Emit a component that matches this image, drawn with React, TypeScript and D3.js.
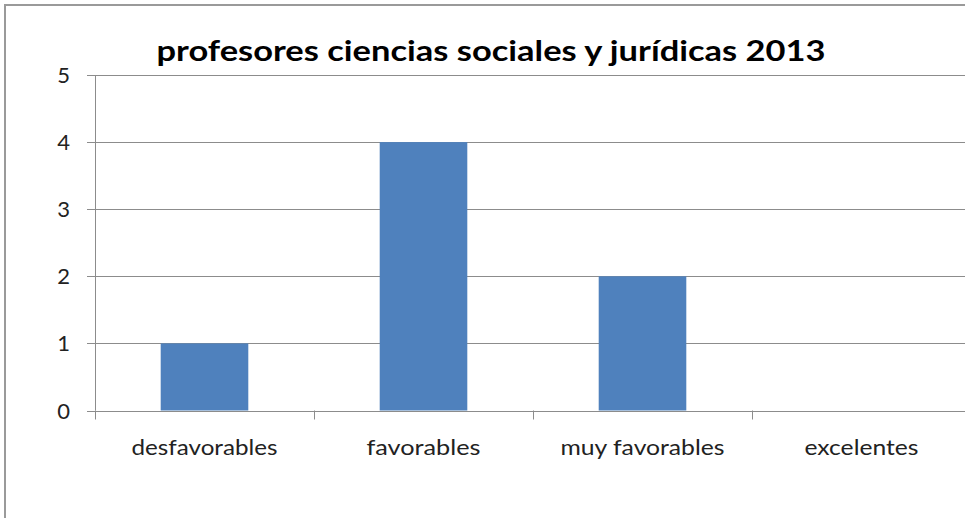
import React from "react";
import * as d3 from "d3";

const categories = ["desfavorables", "favorables", "muy favorables", "excelentes"];
const values = [1, 4, 2, 0];
const yTicks = [0, 1, 2, 3, 4, 5];
const title = "profesores ciencias sociales y jurídicas 2013";

export default function App() {
  const W = 965, H = 518;
  const left = 95, right = 971, top = 75, bottom = 410.5;
  const x = d3.scaleBand<string>().domain(categories).range([left, right]).paddingInner(0).paddingOuter(0);
  const y = d3.scaleLinear().domain([0, 5]).range([bottom, top]);
  const bw = x.bandwidth();
  const barW = bw * 0.4;
  const font = "Lato, 'Open Sans', sans-serif";
  const grid = "#8c8c8c";
  const labelW: Record<string, number> = { "desfavorables": 146, "favorables": 114, "muy favorables": 164, "excelentes": 114 };
  return (
    <svg width={W} height={H} style={{ position: "absolute", left: 0, top: 0, background: "#fff" }}>
      <rect x={5} y={5} width={W + 10} height={H + 10} fill="#fff" stroke="#9a9a9a" strokeWidth={2} />
      <text x={491} y={61} textAnchor="middle" fontFamily={font} fontWeight={700} fontSize={29} fill="#000"
        textLength={669} lengthAdjust="spacingAndGlyphs">{title}</text>
      {yTicks.map(t => (
        <g key={t}>
          <line x1={87} x2={right} y1={Math.round(y(t)) + 0.5} y2={Math.round(y(t)) + 0.5} stroke={grid} strokeWidth={1} />
          <text x={70} y={y(t) + 8} textAnchor="end" fontFamily={font} fontSize={22} fill="#222">{t}</text>
        </g>
      ))}
      <line x1={95.5} x2={95.5} y1={top} y2={bottom} stroke={grid} />
      {categories.map((c, i) => (
        <g key={c}>
          <line x1={Math.round(x(c)!) + 0.5} x2={Math.round(x(c)!) + 0.5} y1={bottom} y2={bottom + 9} stroke={grid} />
          {values[i] > 0 && (
            <rect x={x(c)! + (bw - barW) / 2} y={y(values[i])} width={barW} height={y(0) - y(values[i])} fill="#4F81BD" />
          )}
          <text x={x(c)! + bw / 2} y={455} textAnchor="middle" fontFamily={font} fontSize={22} fill="#222"
            textLength={labelW[c]} lengthAdjust="spacingAndGlyphs">{c}</text>
        </g>
      ))}
    </svg>
  );
}
